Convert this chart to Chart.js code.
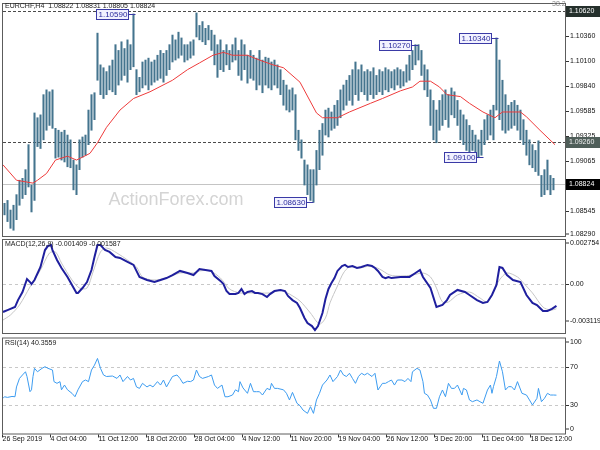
<!DOCTYPE html>
<html>
<head>
<meta charset="utf-8">
<script src="https://cdn.jsdelivr.net/npm/chart.js@4.4.0/dist/chart.umd.min.js"></script>
<style>
  html, body { margin: 0; padding: 0; background: #fff; }
  #wrap { position: relative; width: 600px; height: 450px; overflow: hidden; }
  canvas { position: absolute; left: 0; }
</style>
</head>
<body>
<div id="wrap">
  <canvas id="priceChart" width="600" height="240" style="top:0"></canvas>
  <canvas id="macdChart" width="600" height="100" style="top:237px"></canvas>
  <canvas id="rsiChart" width="600" height="114" style="top:336px"></canvas>
</div>
<script>
// EURCHF H4 bars, one entry per two bars (bar index = 2*i + 1)
const highs = [
  1.0862,1.0865,1.0855,1.0860,1.0871,1.0886,1.0888,1.0897,1.0923,1.0881,
  1.0956,1.0951,1.0954,1.0975,1.0980,1.0978,1.0980,1.0940,1.0938,1.0936,
  1.0938,1.0933,1.0928,1.0907,1.0902,1.0928,1.0931,1.0933,1.0959,1.0975,
  1.0977,1.1039,1.1006,1.1003,1.0999,1.1005,1.1011,1.1027,1.1021,1.1030,
  1.1023,1.1032,1.1027,1.1059,1.1001,1.0993,1.1009,1.1011,1.1013,1.1009,
  1.1011,1.1016,1.1021,1.1018,1.1021,1.1027,1.1037,1.1032,1.1040,1.1034,
  1.1027,1.1027,1.1030,1.1032,1.1060,1.1047,1.1051,1.1044,1.1047,1.1042,
  1.1037,1.1027,1.1032,1.1021,1.1027,1.1021,1.1027,1.1034,1.1021,1.1032,
  1.1027,1.1016,1.1021,1.1016,1.1013,1.1021,1.1011,1.1014,1.1013,1.1009,
  1.1011,1.1006,1.1001,1.0990,1.0985,1.0980,1.0982,1.0975,1.0938,1.0928,
  1.0907,1.0902,1.0897,1.0897,1.0917,1.0938,1.0945,1.0959,1.0961,1.0957,
  1.0964,1.0969,1.0980,1.0985,1.0990,1.0995,1.1001,1.1009,1.1001,1.1006,
  1.0999,1.1001,1.0999,1.1003,1.0995,1.1001,1.0999,1.1003,1.1001,1.0999,
  1.1001,1.1003,1.1001,1.0999,1.1006,1.1016,1.1021,1.1027,1.1027,1.1021,
  1.1006,1.1001,1.0980,1.0969,1.0959,1.0969,1.0975,1.0980,1.0975,1.0982,
  1.0978,1.0969,1.0959,1.0954,1.0949,1.0943,1.0938,1.0933,1.0928,1.0938,
  1.0949,1.0954,1.0959,1.0964,1.1034,1.1011,1.0990,1.0975,1.0964,1.0967,
  1.0969,1.0964,1.0959,1.0949,1.0938,1.0928,1.0923,1.0917,1.0927,1.0891,
  1.0897,1.0907,1.0891,1.0888
];
const lows = [
  1.0850,1.0843,1.0836,1.0834,1.0845,1.0860,1.0867,1.0871,1.0879,1.0853,
  1.0865,1.0921,1.0919,1.0928,1.0938,1.0943,1.0940,1.0909,1.0910,1.0907,
  1.0905,1.0900,1.0899,1.0876,1.0871,1.0897,1.0910,1.0912,1.0923,1.0938,
  1.0949,1.0990,1.0975,1.0971,1.0975,1.0980,1.0978,1.0975,1.0985,1.0990,
  1.0995,1.0988,1.1001,1.1004,1.0975,1.0978,1.0982,1.0985,1.0980,1.0985,
  1.0988,1.0990,1.0992,1.0988,1.0995,1.1001,1.1009,1.1011,1.1013,1.1016,
  1.1009,1.1011,1.1013,1.1016,1.1035,1.1032,1.1030,1.1027,1.1032,1.1021,
  1.1006,1.0993,1.1001,1.0999,1.1006,1.1001,1.1009,1.1011,1.0995,1.0990,
  1.1001,1.0987,1.0992,1.0990,1.0980,1.0985,1.0977,1.0985,1.0982,1.0980,
  1.0985,1.0982,1.0975,1.0964,1.0959,1.0957,1.0959,1.0928,1.0917,1.0909,
  1.0881,1.0871,1.0865,1.0863,1.0881,1.0897,1.0912,1.0933,1.0931,1.0938,
  1.0940,1.0943,1.0951,1.0959,1.0964,1.0969,1.0964,1.0975,1.0969,1.0978,
  1.0975,1.0969,1.0975,1.0971,1.0975,1.0978,1.0975,1.0980,1.0978,1.0982,
  1.0980,1.0985,1.0982,1.0984,1.0988,1.0990,1.1001,1.1006,1.1011,1.0995,
  1.0980,1.0973,1.0943,1.0928,1.0925,1.0938,1.0943,1.0949,1.0941,1.0954,
  1.0951,1.0943,1.0928,1.0923,1.0917,1.0914,1.0917,1.0912,1.0910,1.0912,
  1.0923,1.0928,1.0933,1.0928,1.0959,1.0949,1.0938,1.0935,1.0938,1.0940,
  1.0943,1.0938,1.0928,1.0923,1.0912,1.0902,1.0899,1.0895,1.0891,1.0869,
  1.0871,1.0876,1.0871,1.0876
];

// moving average [bar, price]
const maLine = [
  [0,1.0902],[9,1.0886],[20,1.0883],[23,1.0886],[29,1.0893],[35,1.0907],[43,1.0911],[49,1.0907],
  [53,1.0910],[58,1.0914],[63,1.0925],[69,1.0941],[78,1.0959],[87,1.0971],[98,1.0978],[113,1.0990],
  [123,1.1001],[131,1.1008],[140,1.1016],[147,1.1019],[153,1.1016],[163,1.1016],[171,1.1011],[180,1.1006],
  [187,1.1003],[198,1.0988],[209,1.0956],[213,1.0951],[223,1.0951],[231,1.0957],[245,1.0966],[253,1.0971],
  [265,1.0979],[273,1.0983],[278,1.0989],[285,1.0989],[291,1.0983],[296,1.0975],[305,1.0973],[311,1.0966],
  [320,1.0957],[328,1.0951],[333,1.0957],[345,1.0957],[349,1.0952],[358,1.0938],[368,1.0923]
];

const macdLine = [
  [0,-0.00179],[3,-0.00167],[8,-0.00148],[10,-0.00104],[13,-0.00053],[16,0.00029],[18,0.00010],[19,-0.00003],
  [21,0.00023],[25,0.00105],[28,0.00212],[30,0.00238],[32,0.00244],[33,0.00212],[36,0.00149],[39,0.00099],
  [43,0.00042],[46,-0.00009],[49,-0.00059],[50,-0.00059],[53,-0.00028],[56,0.00010],[59,0.00086],[61,0.00168],
  [63,0.00244],[65,0.00244],[68,0.00212],[71,0.00200],[75,0.00168],[78,0.00162],[83,0.00137],[87,0.00118],
  [91,0.00042],[96,0.00023],[101,0.00010],[105,0.00023],[109,0.00035],[113,0.00054],[118,0.00080],[123,0.00067],
  [127,0.00054],[131,0.00092],[135,0.00086],[139,0.00080],[141,0.00048],[145,0.00017],[147,-0.00003],[149,-0.00047],
  [151,-0.00066],[155,-0.00066],[157,-0.00059],[159,-0.00034],[161,-0.00066],[163,-0.00053],[166,-0.00047],[168,-0.00059],
  [170,-0.00059],[173,-0.00066],[176,-0.00085],[178,-0.00066],[181,-0.00047],[185,-0.00040],[188,-0.00047],[190,-0.00078],
  [193,-0.00104],[196,-0.00122],[198,-0.00154],[201,-0.00217],[203,-0.00249],[206,-0.00268],[208,-0.00293],[210,-0.00268],
  [213,-0.00186],[215,-0.00097],[217,-0.00034],[219,0.00004],[221,0.00035],[223,0.00080],[226,0.00111],[228,0.00118],
  [230,0.00105],[233,0.00111],[236,0.00099],[239,0.00105],[243,0.00118],[246,0.00111],[248,0.00099],[250,0.00080],
  [253,0.00042],[255,0.00035],[257,0.00042],[259,0.00035],[265,0.00042],[271,0.00042],[275,0.00067],[278,0.00086],
  [280,0.00042],[285,-0.00028],[289,-0.00148],[293,-0.00135],[296,-0.00104],[298,-0.00072],[303,-0.00040],[308,-0.00053],
  [311,-0.00072],[316,-0.00104],[320,-0.00122],[323,-0.00116],[326,-0.00072],[329,-0.00009],[331,0.00105],[333,0.00099],
  [336,0.00054],[340,0.00023],[345,0.00010],[349,-0.00072],[353,-0.00122],[356,-0.00135],[358,-0.00154],[360,-0.00173],
  [363,-0.00173],[366,-0.00160],[369,-0.00141]
];

const signalLine = [
  [0,-0.00230],[5,-0.00198],[11,-0.00135],[18,-0.00021],[25,0.00086],[31,0.00193],[35,0.00200],[39,0.00130],
  [46,0.00023],[51,-0.00028],[56,-0.00028],[60,0.00073],[65,0.00200],[69,0.00225],[76,0.00193],[83,0.00149],
  [89,0.00105],[93,0.00042],[100,0.00023],[109,0.00035],[118,0.00067],[127,0.00067],[131,0.00080],[138,0.00080],
  [145,0.00035],[151,-0.00034],[158,-0.00059],[165,-0.00059],[171,-0.00059],[178,-0.00059],[185,-0.00040],[191,-0.00066],
  [198,-0.00110],[205,-0.00186],[211,-0.00255],[215,-0.00217],[218,-0.00122],[223,-0.00015],[227,0.00067],[231,0.00105],
  [238,0.00099],[245,0.00111],[251,0.00092],[258,0.00054],[265,0.00048],[273,0.00054],[280,0.00067],[285,0.00042],
  [289,-0.00028],[293,-0.00116],[297,-0.00116],[303,-0.00072],[311,-0.00053],[318,-0.00091],[323,-0.00116],[327,-0.00053],
  [331,0.00023],[336,0.00067],[343,0.00042],[347,0.00004],[353,-0.00059],[360,-0.00148],[365,-0.00167],[369,-0.00159]
];

const rsiLine = [
  [0,37],[1,38.7],[3,38],[6,39],[8,38.7],[9,49],[11,58],[13,61.6],[15,65],[16,60],[18,44],[19,46],[20,60],
  [21,68.6],[23,65],[26,68.6],[28,70.3],[30,68.6],[33,66.8],[34,54.6],[36,52.8],[38,54.6],[39,46],[41,51],
  [43,46],[46,42.3],[48,38.7],[50,46],[53,54.6],[55,56.3],[57,54.6],[59,66.8],[61,72],[63,79],[65,68.6],
  [67,61.6],[69,60],[73,60.5],[76,58],[78,61.6],[80,54.6],[83,60],[85,56.3],[87,58],[89,49],[91,47.5],
  [93,52.8],[96,49],[98,51],[100,49],[103,54.6],[105,51],[107,56.3],[109,49],[111,54.6],[113,60],[116,61.6],
  [118,58],[120,52.8],[123,55],[125,54.6],[127,56.3],[129,66.8],[131,60],[133,58],[137,60],[139,61.6],[141,51],
  [143,47.5],[146,51],[148,38.7],[150,38.7],[153,40.5],[155,46],[157,44],[158,54.6],[160,48],[163,42.3],
  [165,52.8],[167,44],[169,44],[171,44],[173,40.5],[176,47.5],[178,46],[179,52.8],[181,47.5],[183,47.5],
  [187,46],[189,42.3],[191,35.3],[193,43.3],[196,31.8],[198,29.3],[200,24.7],[203,21.2],[205,28.2],[207,21.2],
  [209,35.3],[211,42.3],[213,51],[216,56.3],[218,61.6],[220,54.6],[223,60],[225,66.8],[227,61.6],[229,60],
  [231,63.4],[233,58],[235,52.8],[237,60],[239,63.4],[241,61.6],[243,63.4],[246,60],[248,63.4],[250,45.8],
  [253,52.8],[255,52.8],[257,54.6],[259,56.3],[261,51],[263,56.3],[266,56.3],[268,54.6],[270,58],[272,54.6],
  [273,65],[276,68.6],[278,66.8],[280,54.6],[281,42.3],[283,40.5],[285,35.3],[287,26.5],[289,26.5],[291,38.7],
  [293,45.8],[295,38.7],[297,52.8],[299,47.5],[301,47.5],[303,51],[306,40.5],[307,47.5],[309,45.8],[311,35.3],
  [313,33.5],[316,35.3],[318,33.5],[320,31.8],[323,45.8],[325,51],[326,42.3],[327,49.3],[329,60],[331,76.3],
  [333,65],[335,45.8],[337,49.3],[339,49.3],[341,45.8],[343,54.6],[346,42.3],[349,40.5],[351,35.3],[353,30],
  [356,37],[357,47.5],[359,33.5],[361,37],[363,42.3],[365,40.5],[367,40.5],[369,40.36]
];

const dateTickBars = [0, 32, 64, 96, 128, 160, 192, 224, 256, 288, 320, 352];
const dateLabels = ['26 Sep 2019', '4 Oct 04:00', '11 Oct 12:00', '18 Oct 20:00', '28 Oct 04:00', '4 Nov 12:00',
  '11 Nov 20:00', '19 Nov 04:00', '26 Nov 12:00', '3 Dec 20:00', '11 Dec 04:00', '18 Dec 12:00'];

const priceTicks = [1.10620, 1.10360, 1.10100, 1.09840, 1.09585, 1.09325, 1.09065, 1.08805, 1.08545, 1.08290];
const macdTicks = [0.002754, 0, -0.003119];
const macdTickLabels = ['0.002754', '0.00', '-0.003119'];
const rsiTicks = [100, 70, 30, 0];

// swing labels drawn on the price panel
const markValues = [1.10590, 1.08630, 1.10270, 1.10340, 1.09100];
const markBars = [88, 207, 277, 330, 320];

const topLevel = 1.10620;
const fibLevel = 1.09260;
const lastPrice = 1.08824;

Chart.defaults.font.family = '"Liberation Sans", Arial, sans-serif';
Chart.defaults.animation = false;
Chart.defaults.plugins.legend.display = false;
Chart.defaults.plugins.tooltip.enabled = false;

const FONT = '7px "Liberation Sans", Arial, sans-serif';
const BAR_MAX = 374.7;

const panelPlugin = {
  id: 'panel',
  beforeDatasetsDraw(chart, args, o) {
    const { ctx, chartArea: a, scales: { y } } = chart;
    ctx.save();
    if (o.watermark) {
      ctx.font = '18px "Liberation Sans", Arial, sans-serif';
      ctx.fillStyle = '#d4d4d4';
      ctx.textAlign = 'center';
      ctx.textBaseline = 'middle';
      ctx.fillText(o.watermark, 176, 200);
    }
    (o.levels || []).forEach(l => {
      const py = Math.round(y.getPixelForValue(l.value)) + 0.5;
      ctx.strokeStyle = l.color;
      ctx.lineWidth = 1;
      ctx.setLineDash(l.dash || []);
      ctx.beginPath();
      ctx.moveTo(a.left, py);
      ctx.lineTo(a.right, py);
      ctx.stroke();
    });
    ctx.restore();
  },
  afterDraw(chart, args, o) {
    const { ctx, chartArea: a, scales: { x, y } } = chart;
    ctx.save();
    // frame
    ctx.strokeStyle = '#5c5c5c';
    ctx.lineWidth = 1;
    ctx.strokeRect(a.left - 0.5, a.top - 0.5, a.right - a.left + 1, a.bottom - a.top + 1);

    // right axis labels
    ctx.font = FONT;
    ctx.textBaseline = 'middle';
    ctx.textAlign = 'left';
    const inset = o.inset || { top: 3, bottom: 3 };
    (o.ticks || []).forEach((v, i) => {
      const py = Math.round(y.getPixelForValue(v)) + 0.5;
      const ty = Math.min(Math.max(py, a.top + inset.top), a.bottom - inset.bottom);
      ctx.strokeStyle = '#333';
      ctx.beginPath();
      ctx.moveTo(a.right + 1, ty);
      ctx.lineTo(a.right + 4, ty);
      ctx.stroke();
      ctx.fillStyle = '#111';
      ctx.fillText(o.tickLabels ? o.tickLabels[i] : v.toFixed(5), a.right + 5, ty);
    });

    // price boxes on the axis
    (o.boxes || []).forEach(b => {
      const py = Math.round(y.getPixelForValue(b.value));
      ctx.fillStyle = b.bg;
      ctx.fillRect(a.right + 1, py - 5, 34, 11);
      ctx.fillStyle = b.fg;
      ctx.fillText(b.value.toFixed(5), a.right + 4, py + 0.5);
    });

    // swing labels
    ctx.font = '8px "Liberation Sans", Arial, sans-serif';
    (o.marks || []).forEach(m => {
      const px = Math.round(x.getPixelForValue(m.bar)) + 0.5;
      const py = Math.round(y.getPixelForValue(m.value)) + 0.5;
      const w = 32, h = 10;
      const bx = px - 7 - w, by = py - 5;
      ctx.fillStyle = '#f2f2ff';
      ctx.fillRect(bx, by, w, h);
      ctx.strokeStyle = '#3a3aa6';
      ctx.strokeRect(bx, by, w, h);
      ctx.beginPath();
      ctx.moveTo(bx + w, py);
      ctx.lineTo(px, py);
      ctx.stroke();
      ctx.fillStyle = '#2a2a9c';
      ctx.fillText(m.value.toFixed(5), bx + 2, py + 0.5);
    });

    // panel caption
    if (o.caption) {
      ctx.font = FONT;
      ctx.fillStyle = '#222';
      ctx.fillText(o.caption, a.left + 2, a.top + (o.captionDy || 4));
    }
    if (o.corner) {
      ctx.font = FONT;
      ctx.fillStyle = '#888';
      ctx.fillText(o.corner, a.right - 13, 4);
    }

    // time axis
    if (o.dates) {
      ctx.font = FONT;
      ctx.textBaseline = 'top';
      o.dates.bars.forEach((bar, i) => {
        const px = Math.round(x.getPixelForValue(bar)) - 0.5;
        ctx.strokeStyle = '#333';
        ctx.beginPath();
        ctx.moveTo(px, a.bottom + 1);
        ctx.lineTo(px, a.bottom + 4);
        ctx.stroke();
        ctx.fillStyle = '#111';
        ctx.fillText(o.dates.labels[i], px, a.bottom + 2);
      });
    }
    ctx.restore();
  }
};
Chart.register(panelPlugin);

function scalesFor(yMin, yMax) {
  return {
    x: { type: 'linear', min: 0, max: BAR_MAX, offset: false, display: false },
    y: {
      position: 'right', min: yMin, max: yMax,
      ticks: { display: false }, grid: { display: false }, border: { display: false },
      afterFit: s => { s.width = 35; }
    }
  };
}

const toPoints = pairs => pairs.map(([bar, v]) => ({ x: bar, y: v }));

new Chart(document.getElementById('priceChart'), {
  type: 'bar',
  data: {
    datasets: [{
      type: 'line',
      data: toPoints(maLine),
      borderColor: '#ee3b3b',
      borderWidth: 1,
      pointRadius: 0,
      tension: 0,
      order: 0
    }, {
      data: highs.map((h, i) => ({ x: 2 * i + 1, y: [lows[i], h] })),
      backgroundColor: '#44748e',
      borderWidth: 0,
      barThickness: 1.4,
      order: 1
    }]
  },
  options: {
    responsive: false,
    layout: { padding: { left: 3, top: 4, bottom: 4, right: 0 } },
    scales: scalesFor(1.08280, 1.10693),
    plugins: {
      panel: {
        watermark: 'ActionForex.com',
        levels: [
          { value: lastPrice, color: '#c4c4c4' },
          { value: topLevel, color: '#4a4a4a', dash: [3, 2] },
          { value: fibLevel, color: '#4a4a4a', dash: [3, 2] }
        ],
        ticks: priceTicks,
        inset: { top: 3, bottom: 2 },
        boxes: [
          { value: topLevel, bg: '#25302c', fg: '#ffffff' },
          { value: fibLevel, bg: '#4f5e59', fg: '#f0f0f0' },
          { value: lastPrice, bg: '#000000', fg: '#ffffff' }
        ],
        marks: markValues.map((v, i) => ({ value: v, bar: markBars[i] })),
        caption: 'EURCHF,H4  1.08822 1.08831 1.08805 1.08824',
        captionDy: 2,
        corner: '38.2'
      }
    }
  }
});

new Chart(document.getElementById('macdChart'), {
  type: 'line',
  data: {
    datasets: [{
      data: toPoints(macdLine),
      borderColor: '#1f1f9e',
      borderWidth: 2,
      pointRadius: 0,
      tension: 0
    }, {
      data: toPoints(signalLine),
      borderColor: '#c6c6c6',
      borderWidth: 1,
      pointRadius: 0,
      tension: 0.3
    }]
  },
  options: {
    responsive: false,
    layout: { padding: { left: 3, top: 3, bottom: 4, right: 0 } },
    scales: scalesFor(-0.003119, 0.002754),
    plugins: {
      panel: {
        levels: [{ value: 0, color: '#c8c8c8', dash: [3, 3] }],
        ticks: macdTicks,
        tickLabels: macdTickLabels,
        inset: { top: 3, bottom: 12 },
        caption: 'MACD(12,26,9) -0.001409 -0.001587',
        captionDy: 4
      }
    }
  }
});

new Chart(document.getElementById('rsiChart'), {
  type: 'line',
  data: {
    datasets: [{
      data: toPoints(rsiLine),
      borderColor: '#3d9cf0',
      borderWidth: 1,
      pointRadius: 0,
      tension: 0
    }]
  },
  options: {
    responsive: false,
    layout: { padding: { left: 3, top: 2.5, bottom: 16.5, right: 0 } },
    scales: scalesFor(0, 100),
    plugins: {
      panel: {
        levels: [
          { value: 70, color: '#c8c8c8', dash: [3, 3] },
          { value: 30, color: '#c8c8c8', dash: [3, 3] }
        ],
        ticks: rsiTicks,
        tickLabels: rsiTicks.map(String),
        inset: { top: 3.5, bottom: 4.5 },
        caption: 'RSI(14) 40.3559',
        captionDy: 5,
        dates: { bars: dateTickBars, labels: dateLabels }
      }
    }
  }
});
</script>
</body>
</html>
